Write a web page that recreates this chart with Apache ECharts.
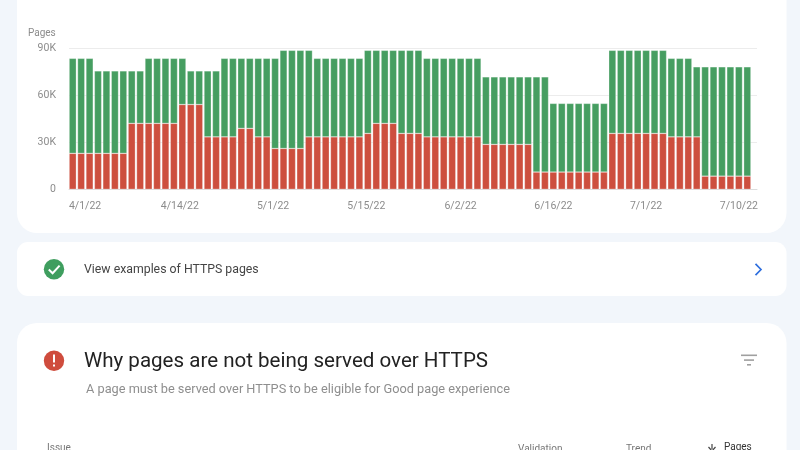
<!DOCTYPE html>
<html><head><meta charset="utf-8">
<style>html,body{margin:0;padding:0;background:#f2f6fb}#c{width:800px;height:450px}</style>
<script src="https://cdn.jsdelivr.net/npm/echarts@6/dist/echarts.min.js"></script>
</head><body><div id="c"></div>
<script>
const tickValues = [0, 30000, 60000, 90000];
const tickLabels = ['0', '30K', '60K', '90K'];
const dateLabels = {2:'4/1/22',13:'4/14/22',24:'5/1/22',35:'5/15/22',46:'6/2/22',57:'6/16/22',68:'7/1/22',79:'7/10/22'};
const red = [
 22900,22900,22900,22900,22900,22900,22900,42000,42000,42000,
 42000,42000,42000,54000,54000,54000,33400,33400,33400,33400,
 38800,38800,33400,33400,26000,26000,26000,26000,33400,33400,
 33400,33400,33400,33400,33400,35600,42000,42000,42000,35600,
 35600,35600,33400,33400,33400,33400,33400,33400,33400,28600,
 28600,28600,28600,28600,28600,11000,11000,11000,11000,11000,
 11000,11000,11000,11000,35600,35600,35600,35600,35600,35600,
 35600,33400,33400,33400,33400,8400,8400,8400,8400,8400,8400];
const green = [
 60500,60500,60500,52500,52500,52500,52500,33400,33400,41400,
 41400,41400,41400,29400,21400,21400,42000,42000,50000,50000,
 44600,44600,50000,50000,57400,62500,62500,62500,55100,50000,
 50000,50000,50000,50000,50000,52900,46500,46500,46500,52900,
 52900,52900,50000,50000,50000,50000,50000,50000,50000,43000,
 43000,43000,43000,43000,43000,60600,60600,43700,43700,43700,
 43700,43700,43700,43700,52900,52900,52900,52900,52900,52900,
 52900,50000,50000,50000,44600,69600,69600,69600,69600,69600,69600];
const categories = red.map((_, i) => dateLabels[i] || String(i));

const F = 'Roboto, sans-serif';
const LBL = {color:'#8c8c8c',fontFamily:F,fontSize:10.5};
const chart = echarts.init(document.getElementById('c'), null, {renderer:'canvas'});
const txt = (x,y,text,size,fill,extra) => ({type:'text',silent:true,z:5,style:Object.assign({x,y,text,font:`${size}px ${F}`,fill,textVerticalAlign:'middle'},extra||{})});
const card = (y,h,r) => ({type:'rect',silent:true,z:-10,shape:{x:17,y,width:769.5,height:h,r},style:{fill:'#fff'}});
const shift = {'4/1/22':'a','4/14/22':'b','5/1/22':'c','5/15/22':'d'};
chart.setOption({
  animation:false,
  backgroundColor:'#f2f6fb',
  grid:[
    {left:69,top:48,width:688,height:141.3},
    {left:68.5,top:48,width:683,height:141.3}
  ],
  xAxis:[
    {gridIndex:0,type:'category',data:categories,axisLabel:{show:false},axisTick:{show:false},
     axisLine:{show:true,lineStyle:{color:'#dcdcdc',width:1}}},
    {gridIndex:1,type:'category',data:categories,axisTick:{show:false},axisLine:{show:false},
     axisLabel:Object.assign({},LBL,{interval:(i)=>dateLabels[i]!==undefined,margin:12,hideOverlap:false,
       formatter:(v)=>shift[v]?`{${shift[v]}|${v}}`:v,
       rich:{
         a:Object.assign({padding:[0,9,0,0]},LBL),
         b:Object.assign({padding:[0,5,0,0]},LBL),
         c:Object.assign({padding:[0,4,0,0]},LBL),
         d:Object.assign({padding:[0,3,0,0]},LBL)}})}
  ],
  yAxis:[
    {gridIndex:0,type:'value',min:0,max:90000,interval:30000,axisLine:{show:false},axisTick:{show:false},
     axisLabel:Object.assign({},LBL,{margin:13,padding:[2,0,0,0],formatter:(v)=>tickLabels[tickValues.indexOf(v)]}),
     splitLine:{lineStyle:{color:'#ececec',width:1}}},
    {gridIndex:1,type:'value',min:0,max:90000,interval:30000,show:false,splitLine:{show:false}}
  ],
  series:[
    {type:'bar',name:'Not HTTPS',stack:'p',xAxisIndex:1,yAxisIndex:1,data:red,barWidth:7.2,
     itemStyle:{color:'#cd4f3e',borderColor:'rgba(255,255,255,0.55)',borderWidth:0.5}},
    {type:'bar',name:'HTTPS',stack:'p',xAxisIndex:1,yAxisIndex:1,data:green,barWidth:7.2,
     itemStyle:{color:'#469e61',borderColor:'rgba(255,255,255,0.55)',borderWidth:0.5}}
  ],
  graphic:{elements:[
    card(-40,273,20), card(242,54,11), card(323,180,20),
    txt(28,33,'Pages',10,'#8c8c8c'),
    {type:'circle',silent:true,z:5,shape:{cx:54,cy:269.3,r:10.2},style:{fill:'#3f9e5f'}},
    {type:'polyline',silent:true,z:6,shape:{points:[[48.8,269.5],[52.6,273.2],[59.6,265.6]]},style:{stroke:'#fff',lineWidth:2,fill:null}},
    txt(84,269.5,'View examples of HTTPS pages',12.3,'#444'),
    {type:'polyline',silent:true,z:6,shape:{points:[[755.5,263.8],[761,269.5],[755.5,275.2]]},style:{stroke:'#2f6fde',lineWidth:1.7,fill:null}},
    {type:'circle',silent:true,z:5,shape:{cx:54,cy:360.8,r:10.2},style:{fill:'#cf4c3d'}},
    {type:'rect',silent:true,z:6,shape:{x:53,y:354.5,width:2,height:8},style:{fill:'#fff'}},
    {type:'rect',silent:true,z:6,shape:{x:53,y:364.5,width:2,height:2},style:{fill:'#fff'}},
    txt(84,362,'Why pages are not being served over HTTPS',20.55,'#222'),
    txt(86,389.5,'A page must be served over HTTPS to be eligible for Good page experience',12.76,'#8e8e8e'),
    {type:'rect',silent:true,z:6,shape:{x:741,y:354.5,width:16,height:1.6},style:{fill:'#a0a0a0'}},
    {type:'rect',silent:true,z:6,shape:{x:744,y:359.3,width:10,height:1.6},style:{fill:'#a0a0a0'}},
    {type:'rect',silent:true,z:6,shape:{x:747,y:364,width:4,height:1.6},style:{fill:'#a0a0a0'}},
    txt(47,448,'Issue',10,'#777'),
    txt(518,449,'Validation',10,'#777'),
    txt(626,449,'Trend',10,'#777'),
    txt(724,447.5,'Pages',10,'#333'),
    {type:'polyline',silent:true,z:6,shape:{points:[[712,449],[712,444]]},style:{stroke:'#444',lineWidth:1.2,fill:null}},
    {type:'polyline',silent:true,z:6,shape:{points:[[708.5,447],[712,451],[715.5,447]]},style:{stroke:'#444',lineWidth:1.2,fill:null}}
  ]}
});
</script></body></html>
